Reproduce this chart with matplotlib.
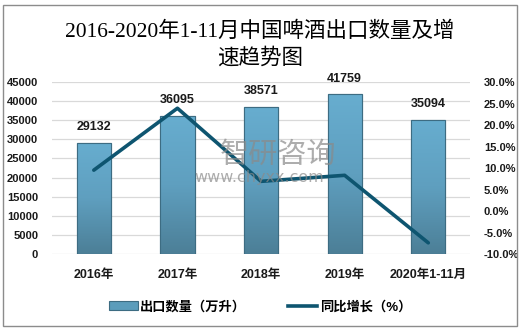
import matplotlib
matplotlib.use("Agg")
import matplotlib.pyplot as plt
import numpy as np
from matplotlib.colors import LinearSegmentedColormap
from matplotlib.lines import Line2D
from matplotlib.patches import Patch, Rectangle

categories = ["2016年", "2017年", "2018年", "2019年", "2020年1-11月"]
export_volume = [29132, 36095, 38571, 41759, 35094]
growth_pct = [9.5, 23.9, 6.9, 8.3, -7.4]
left_ticks = list(range(0, 45001, 5000))
right_ticks = list(range(-10, 31, 5))

CJK = ["Liberation Sans", "Noto Sans CJK SC"]
TITLE_FONT = ["Liberation Serif", "Noto Sans CJK SC"]
LINE_COLOR = "#0e5570"

fig = plt.figure(figsize=(5.2, 3.3), dpi=100)
fig.patch.set_facecolor("white")
fig.add_artist(Rectangle((0.006, 0.012), 0.988, 0.973, transform=fig.transFigure,
                         fill=False, edgecolor="#8c8c8c", linewidth=1.0))

ax = fig.add_axes([0.1, 0.2303, 0.804, 0.5212])
x = np.arange(len(categories))

ax.set_xlim(-0.5, len(categories) - 0.5)
ax.set_ylim(0, 45000)
ax.set_yticks(left_ticks)
ax.set_yticklabels([str(v) for v in left_ticks], family=CJK, fontweight="bold", fontsize=8)
ax.set_xticks(x)
ax.set_xticklabels(categories, family=CJK, fontweight="bold", fontsize=9)
ax.tick_params(axis="both", length=0, colors="#1a1a1a")
ax.tick_params(axis="y", pad=10)
ax.tick_params(axis="x", pad=11)
ax.grid(axis="y", color="#d9d9d9", linewidth=0.9)
ax.set_axisbelow(True)
for side in ("top", "right", "left", "bottom"):
    ax.spines[side].set_visible(False)

bars = ax.bar(x, export_volume, width=0.41, color="#5b9cbb", edgecolor="#3d6c82",
              linewidth=0.8, zorder=2)

# vertical gradient inside each bar
grad = LinearSegmentedColormap.from_list("bar", ["#4c7f97", "#5f9fbf", "#67adcf"])
for b in bars:
    x0, y0 = b.get_x(), b.get_y()
    w, h = b.get_width(), b.get_height()
    img = ax.imshow(np.linspace(0, 1, 100).reshape(-1, 1), cmap=grad, origin="lower",
                    extent=(x0, x0 + w, y0, y0 + h), aspect="auto", zorder=2.1)
    img.set_clip_path(b)
    ax.add_patch(Rectangle((x0, y0), w, h, fill=False, edgecolor="#3d6c82",
                           linewidth=0.8, zorder=2.2))

for xi, v in zip(x, export_volume):
    ax.annotate(str(v), (xi, v), xytext=(0, 7), textcoords="offset points",
                ha="center", va="bottom", fontsize=9, fontweight="bold",
                family=CJK, color="#1a1a1a", zorder=5)

ax2 = ax.twinx()
ax2.set_ylim(-10, 30)
ax2.set_yticks(right_ticks)
ax2.set_yticklabels([f"{v:.1f}%" for v in right_ticks], family=CJK,
                    fontweight="bold", fontsize=8)
ax2.tick_params(axis="y", length=0, pad=10, colors="#1a1a1a")
for side in ("top", "right", "left", "bottom"):
    ax2.spines[side].set_visible(False)
ax2.plot(x, growth_pct, color=LINE_COLOR, linewidth=2.6, solid_capstyle="round", zorder=4)
ax2.set_xlim(-0.5, len(categories) - 0.5)

# watermark
fig.text(0.535, 0.53, "智研咨询", family="Noto Sans CJK SC", fontsize=21,
         color="#8a8a8a", alpha=0.7, ha="center", va="center", zorder=6)
fig.text(0.498, 0.462, "www.chyxx.com", family="DejaVu Sans", fontsize=11.5,
         color="#8a8a8a", alpha=0.7, ha="center", va="center", zorder=6)

fig.text(0.5, 0.903, "2016-2020年1-11月中国啤酒出口数量及增", family=TITLE_FONT,
         fontsize=15.5, ha="center", va="center", color="black")
fig.text(0.5, 0.823, "速趋势图", family=TITLE_FONT, fontsize=15.5,
         ha="center", va="center", color="black")

handles = [Patch(facecolor="#5b9cbb", edgecolor="#3d6c82", linewidth=0.8),
           Line2D([0], [0], color=LINE_COLOR, linewidth=2.6)]
fig.legend(handles, ["出口数量（万升）", "同比增长（%）"], loc="center",
           bbox_to_anchor=(0.5, 0.07), ncol=2, frameon=False, handlelength=2.2,
           handletextpad=0.2, columnspacing=3.2,
           prop={"family": CJK, "weight": "bold", "size": 9.5})

fig.savefig("out.png", dpi=100)
plt.close(fig)
